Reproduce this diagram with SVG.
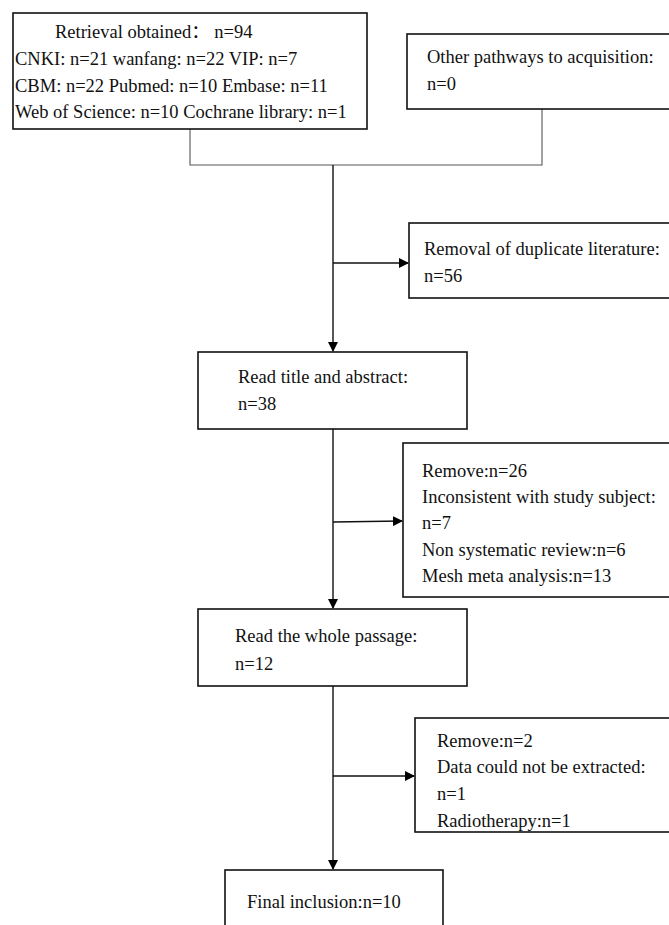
<svg xmlns="http://www.w3.org/2000/svg" width="669" height="925" viewBox="0 0 669 925">
<defs>
<marker id="ah" markerWidth="10" markerHeight="10" refX="9" refY="5" orient="auto" markerUnits="userSpaceOnUse">
<path d="M0,0 L10,5 L0,10 z" fill="#000"/>
</marker>
<style>
.box{fill:#fff;stroke:#111;stroke-width:1.6}
.t{font-family:"Liberation Serif","Noto Sans CJK SC",serif;font-size:18.5px;fill:#111}
.ln{fill:none;stroke:#111;stroke-width:1.4}
.br{fill:none;stroke:#555;stroke-width:1.1}
</style>
</defs>
<rect width="669" height="925" fill="#fff"/>
<g id="connectors">
<polyline class="br" points="190,129 190,165 542,165 542,109"/>
<line class="ln" x1="333" y1="165" x2="333" y2="351" marker-end="url(#ah)"/>
<line class="ln" x1="333" y1="263" x2="408" y2="263" marker-end="url(#ah)"/>
<line class="ln" x1="333" y1="429" x2="333" y2="608" marker-end="url(#ah)"/>
<line class="ln" x1="333" y1="522" x2="402" y2="521" marker-end="url(#ah)"/>
<line class="ln" x1="333" y1="686" x2="333" y2="869" marker-end="url(#ah)"/>
<line class="ln" x1="333" y1="776" x2="414" y2="776" marker-end="url(#ah)"/>
</g>
<g id="retrieval">
<rect class="box" x="13" y="13" width="354" height="116"/>
<text class="t" x="55" y="38">Retrieval obtained：  n=94</text>
<text class="t" x="15" y="65">CNKI: n=21 wanfang: n=22 VIP: n=7</text>
<text class="t" x="15" y="92">CBM: n=22 Pubmed: n=10 Embase: n=11</text>
<text class="t" x="15" y="118">Web of Science: n=10 Cochrane library: n=1</text>
</g>
<g id="other">
<rect class="box" x="407" y="34" width="280" height="75"/>
<text class="t" x="427" y="63">Other pathways to acquisition:</text>
<text class="t" x="427" y="90">n=0</text>
</g>
<g id="duplicates">
<rect class="box" x="409" y="223" width="280" height="75"/>
<text class="t" x="424" y="255">Removal of duplicate literature:</text>
<text class="t" x="424" y="282">n=56</text>
</g>
<g id="title-abstract">
<rect class="box" x="198" y="352" width="269" height="77"/>
<text class="t" x="238" y="383">Read title and abstract:</text>
<text class="t" x="238" y="410">n=38</text>
</g>
<g id="remove26">
<rect class="box" x="403" y="443" width="286" height="154"/>
<text class="t" x="422" y="477">Remove:n=26</text>
<text class="t" x="422" y="503">Inconsistent with study subject:</text>
<text class="t" x="422" y="529">n=7</text>
<text class="t" x="422" y="556">Non systematic review:n=6</text>
<text class="t" x="422" y="582">Mesh meta analysis:n=13</text>
</g>
<g id="whole-passage">
<rect class="box" x="198" y="609" width="269" height="77"/>
<text class="t" x="235" y="642">Read the whole passage:</text>
<text class="t" x="235" y="670">n=12</text>
</g>
<g id="remove2">
<rect class="box" x="415" y="718" width="274" height="114"/>
<text class="t" x="437" y="747">Remove:n=2</text>
<text class="t" x="437" y="773">Data could not be extracted:</text>
<text class="t" x="437" y="800">n=1</text>
<text class="t" x="437" y="827">Radiotherapy:n=1</text>
</g>
<g id="final">
<rect class="box" x="225" y="870" width="218" height="70"/>
<text class="t" x="247" y="908">Final inclusion:n=10</text>
</g>
</svg>
